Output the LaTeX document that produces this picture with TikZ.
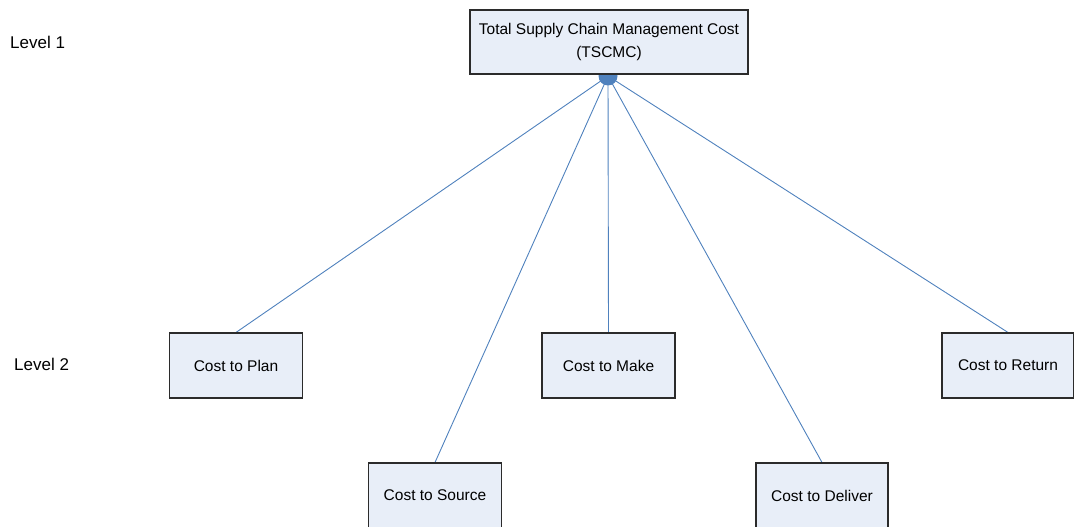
\documentclass[tikz,border=0pt]{standalone}
\usepackage{fontspec}
\setmainfont{Liberation Sans}
\usetikzlibrary{backgrounds}
\definecolor{boxfill}{HTML}{E8EEF8}
\definecolor{linkblue}{HTML}{4F81BD}
\definecolor{boxedge}{HTML}{2B2B2B}
\tikzset{
  costbox/.style={draw=boxedge, line width=1.1pt, fill=boxfill, inner sep=0pt,
    minimum width=133pt, minimum height=65pt, align=center,
    font=\fontsize{15.5}{23}\selectfont},
  levellabel/.style={anchor=west, inner sep=0pt, font=\fontsize{17}{20}\selectfont},
  link/.style={draw=linkblue, line width=0.9pt}
}
\begin{document}
\begin{tikzpicture}[x=1pt,y=-1pt]
  \useasboundingbox (0,0) rectangle (1074,527);

  % level captions
  \node[levellabel] (lvl1) at (10,42) {Level 1};
  \node[levellabel] (lvl2) at (14,364) {Level 2};

  % top-level cost and its breakdown
  \node[costbox, minimum width=278pt, minimum height=64pt] (tscmc) at (609,42)
    {Total Supply Chain Management Cost\\(TSCMC)};
  \node[costbox] (plan)    at (236,365.5)  {Cost to Plan};
  \node[costbox] (make)    at (608.5,365.5) {Cost to Make};
  \node[costbox, minimum width=132pt] (return) at (1008,365.5) {Cost to Return};
  \node[costbox] (source)  at (435,495.5)  {Cost to Source};
  \node[costbox, minimum width=132pt] (deliver) at (822,495.5) {Cost to Deliver};

  \coordinate (hub) at (608,76);

  \begin{pgfonlayer}{background}
    \draw[link] (hub) -- (plan.north);
    \draw[link] (hub) -- (source.north);
    \draw[link] (hub) -- (make.north);
    \draw[link] (hub) -- (deliver.north);
    \draw[link] (hub) -- (return.north);
    \fill[linkblue] (hub) circle (9.5pt);
  \end{pgfonlayer}
\end{tikzpicture}
\end{document}
